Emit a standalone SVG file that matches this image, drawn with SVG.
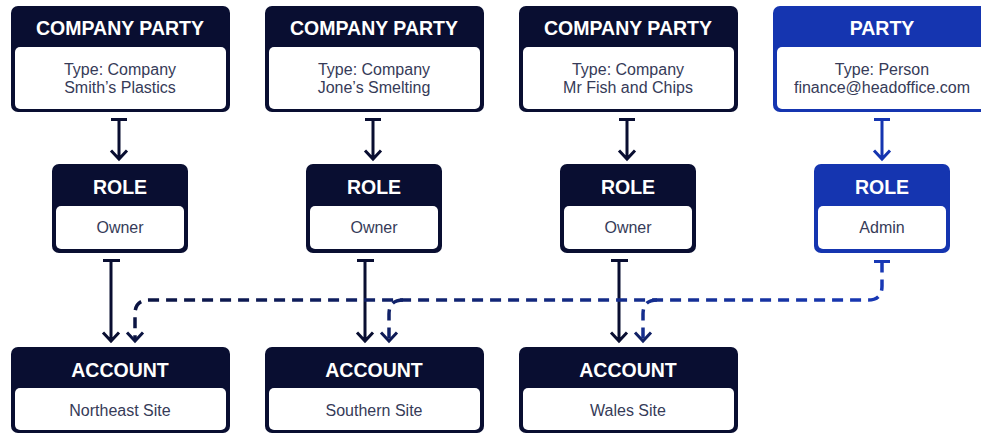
<svg xmlns="http://www.w3.org/2000/svg" width="981" height="435" viewBox="0 0 981 435">
<defs>
<style>
.hdr{font-family:"Liberation Sans",Arial,sans-serif;font-weight:bold;font-size:19.5px;fill:#fff;text-anchor:middle}
.bd{font-family:"Liberation Sans",Arial,sans-serif;font-size:16px;fill:#363b58;text-anchor:middle}
.n{fill:#090e31}
.b{fill:#1535b0}
.in{fill:#fff}
.ln{fill:none;stroke-width:3}
.ds{fill:none;stroke-width:3.5;stroke-dasharray:11 7}
</style>
<linearGradient id="dg" gradientUnits="userSpaceOnUse" x1="882" y1="0" x2="135" y2="0">
<stop offset="0" stop-color="#1838b5"/>
<stop offset="0.35" stop-color="#142c8a"/>
<stop offset="1" stop-color="#0b1442"/>
</linearGradient>
</defs>
<rect width="981" height="435" fill="#fff"/>

<g id="party1"><rect class="n" x="11" y="6" width="219" height="106" rx="7"/><rect class="in" x="15" y="47" width="211" height="62" rx="5"/><text class="hdr" x="120" y="35">COMPANY PARTY</text><text class="bd" x="120" y="75">Type: Company</text><text class="bd" x="120" y="93">Smith’s Plastics</text></g>
<g id="party2"><rect class="n" x="265" y="6" width="219" height="106" rx="7"/><rect class="in" x="269" y="47" width="211" height="62" rx="5"/><text class="hdr" x="374" y="35">COMPANY PARTY</text><text class="bd" x="374" y="75">Type: Company</text><text class="bd" x="374" y="93">Jone’s Smelting</text></g>
<g id="party3"><rect class="n" x="519" y="6" width="219" height="106" rx="7"/><rect class="in" x="523" y="47" width="211" height="62" rx="5"/><text class="hdr" x="628" y="35">COMPANY PARTY</text><text class="bd" x="628" y="75">Type: Company</text><text class="bd" x="628" y="93">Mr Fish and Chips</text></g>
<g id="party4"><rect class="b" x="773" y="6" width="219" height="106" rx="7"/><rect class="in" x="777" y="47" width="211" height="62" rx="5"/><text class="hdr" x="882" y="35">PARTY</text><text class="bd" x="882" y="75">Type: Person</text><text class="bd" x="882" y="93">finance@headoffice.com</text></g>

<g id="role1"><rect class="n" x="52" y="164" width="136" height="89" rx="7"/><rect class="in" x="56" y="206" width="128" height="43" rx="5"/><text class="hdr" x="120" y="194">ROLE</text><text class="bd" x="120" y="233">Owner</text></g>
<g id="role2"><rect class="n" x="306" y="164" width="136" height="89" rx="7"/><rect class="in" x="310" y="206" width="128" height="43" rx="5"/><text class="hdr" x="374" y="194">ROLE</text><text class="bd" x="374" y="233">Owner</text></g>
<g id="role3"><rect class="n" x="560" y="164" width="136" height="89" rx="7"/><rect class="in" x="564" y="206" width="128" height="43" rx="5"/><text class="hdr" x="628" y="194">ROLE</text><text class="bd" x="628" y="233">Owner</text></g>
<g id="role4"><rect class="b" x="814" y="164" width="136" height="89" rx="7"/><rect class="in" x="818" y="206" width="128" height="43" rx="5"/><text class="hdr" x="882" y="194">ROLE</text><text class="bd" x="882" y="233">Admin</text></g>

<g id="account1"><rect class="n" x="11" y="347" width="219" height="86" rx="7"/><rect class="in" x="15" y="388" width="211" height="42" rx="5"/><text class="hdr" x="120" y="377">ACCOUNT</text><text class="bd" x="120" y="416">Northeast Site</text></g>
<g id="account2"><rect class="n" x="265" y="347" width="219" height="86" rx="7"/><rect class="in" x="269" y="388" width="211" height="42" rx="5"/><text class="hdr" x="374" y="377">ACCOUNT</text><text class="bd" x="374" y="416">Southern Site</text></g>
<g id="account3"><rect class="n" x="519" y="347" width="219" height="86" rx="7"/><rect class="in" x="523" y="388" width="211" height="42" rx="5"/><text class="hdr" x="628" y="377">ACCOUNT</text><text class="bd" x="628" y="416">Wales Site</text></g>

<g id="connectors">
<g stroke="#090e31" class="ln">
<path d="M111 119.5H127M119 119.5V159M111 150.5L119 159L127 150.5"/>
<path d="M365 119.5H381M373 119.5V159M365 150.5L373 159L381 150.5"/>
<path d="M619 119.5H635M627 119.5V159M619 150.5L627 159L635 150.5"/>
<path d="M103 260.5H120M111 260.5V341M103 332.5L111 341L119 332.5"/>
<path d="M357 260.5H374M365 260.5V341M357 332.5L365 341L373 332.5"/>
<path d="M611 260.5H628M619 260.5V341M611 332.5L619 341L627 332.5"/>
</g>
<path stroke="#1535b0" class="ln" d="M874 119.5H890M882 119.5V159M874 150.5L882 159L890 150.5"/>
<path stroke="#1838b5" class="ln" d="M874 261.5H890"/>
<path stroke="url(#dg)" class="ds" d="M882 261.5V286Q882 300 868 300H149Q135 300 135 314V340"/>
<path stroke="url(#dg)" class="ds" d="M403 300Q389 300 389 314V340"/>
<path stroke="url(#dg)" class="ds" d="M657 300Q643 300 643 314V340"/>
<g class="ln">
<path stroke="#0b1442" d="M127 332.5L135 341L143 332.5"/>
<path stroke="#0e1a55" d="M381 332.5L389 341L397 332.5"/>
<path stroke="#112266" d="M635 332.5L643 341L651 332.5"/>
</g>
</g>
</svg>
